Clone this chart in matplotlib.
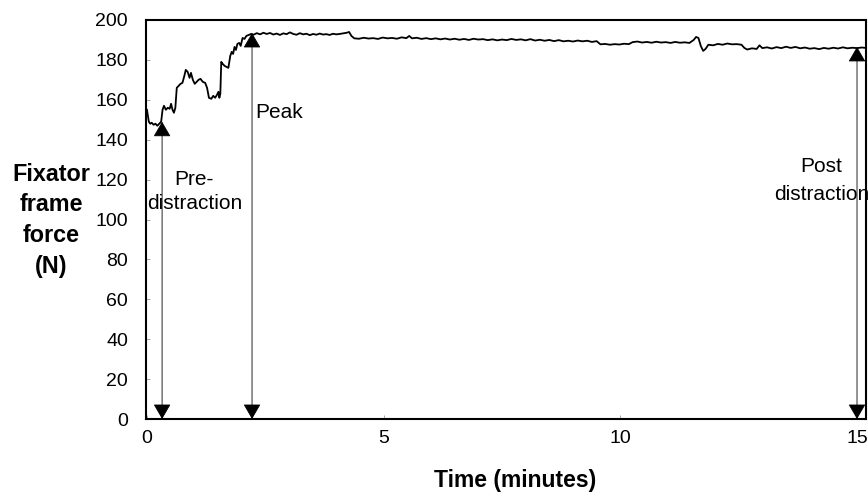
import matplotlib
matplotlib.use("Agg")
import matplotlib.pyplot as plt

plt.rcParams["font.family"] = ["Liberation Sans", "DejaVu Sans"]

# force trace (time in minutes, force in N)
time = [0.00, 0.02, 0.04, 0.07, 0.10, 0.14, 0.18, 0.22, 0.26, 0.30,
        0.33, 0.36, 0.40, 0.44, 0.48, 0.51, 0.54, 0.57, 0.60, 0.63,
        0.67, 0.71, 0.75, 0.79, 0.82, 0.86, 0.90, 0.93, 0.97, 1.01,
        1.05, 1.09, 1.13, 1.18, 1.23, 1.27, 1.31, 1.36, 1.40, 1.44,
        1.48, 1.51, 1.53, 1.55, 1.57, 1.60, 1.64, 1.68, 1.72, 1.76,
        1.79, 1.82, 1.85, 1.88, 1.91, 1.95, 1.98, 2.02, 2.06, 2.10,
        2.15, 2.20, 2.25, 2.32, 2.39, 2.46, 2.53, 2.60, 2.67, 2.74,
        2.81, 2.88, 2.95, 3.02, 3.09, 3.16, 3.23, 3.30, 3.37, 3.44,
        3.51, 3.58, 3.65, 3.72, 3.79, 3.86, 3.93, 4.00, 4.07, 4.14,
        4.22, 4.27, 4.32, 4.38, 4.48, 4.58, 4.68, 4.78, 4.88, 4.98,
        5.08, 5.18, 5.28, 5.38, 5.48, 5.54, 5.60, 5.70, 5.80, 5.90,
        6.00, 6.10, 6.20, 6.30, 6.40, 6.50, 6.60, 6.70, 6.80, 6.90,
        7.00, 7.10, 7.20, 7.30, 7.40, 7.50, 7.60, 7.70, 7.80, 7.90,
        8.00, 8.10, 8.20, 8.30, 8.40, 8.50, 8.60, 8.70, 8.80, 8.90,
        9.00, 9.10, 9.20, 9.30, 9.40, 9.50, 9.58, 9.68, 9.78, 9.88,
        9.98, 10.08, 10.18, 10.26, 10.36, 10.46, 10.56, 10.66, 10.76, 10.86,
        10.96, 11.06, 11.16, 11.26, 11.36, 11.46, 11.55, 11.60, 11.65, 11.70,
        11.75, 11.80, 11.86, 11.96, 12.06, 12.16, 12.26, 12.36, 12.46, 12.56,
        12.62, 12.68, 12.78, 12.88, 12.94, 13.00, 13.10, 13.20, 13.30, 13.40,
        13.50, 13.60, 13.70, 13.80, 13.90, 14.00, 14.10, 14.20, 14.30, 14.40,
        14.50, 14.60, 14.70, 14.80, 14.90, 15.00, 15.10, 15.19]
force = [155.0, 152.0, 149.0, 148.0, 148.5, 147.5, 148.0, 147.0, 148.0, 149.0,
         155.0, 157.0, 155.0, 156.0, 155.5, 158.0, 155.0, 153.5, 156.0, 166.0,
         167.0, 168.0, 168.5, 172.0, 175.0, 174.0, 171.0, 173.5, 170.0, 168.0,
         169.0, 170.0, 170.5, 169.0, 168.5, 166.0, 161.0, 160.5, 162.0, 161.0,
         162.5, 164.0, 161.0, 163.0, 179.0, 178.0, 177.0, 176.5, 176.0, 182.0,
         184.0, 183.0, 186.5, 185.0, 188.0, 188.5, 187.0, 191.0, 190.5, 192.0,
         192.5, 193.0, 192.6, 193.4, 192.8, 193.6, 193.0, 193.5, 192.7, 193.2,
         192.5, 193.3, 192.9, 193.8, 193.0, 192.6, 193.4, 192.8, 193.1, 192.4,
         193.0, 192.6, 193.2, 192.7, 192.9, 192.5, 193.1, 192.8, 193.0, 193.3,
         193.6, 194.0, 192.0, 190.8, 190.6, 191.1, 190.7, 190.9, 190.5, 191.2,
         190.8, 191.0, 190.6, 191.3, 190.9, 192.0, 190.8, 191.1, 190.5, 190.9,
         190.4, 190.8, 190.3, 190.7, 190.2, 190.6, 190.1, 190.5, 190.0, 190.6,
         190.2, 190.4, 189.9, 190.3, 189.8, 190.2, 189.9, 190.5, 190.0, 190.3,
         189.8, 190.4, 189.7, 190.1, 189.6, 190.0, 189.4, 189.9, 189.3, 189.6,
         189.2, 189.7, 189.3, 189.6, 189.0, 189.4, 187.8, 188.0, 187.6, 187.9,
         187.7, 188.1, 187.9, 188.9, 189.2, 188.7, 189.0, 188.6, 189.1, 188.7,
         188.9, 188.5, 189.0, 188.6, 188.8, 188.5, 190.0, 191.5, 191.0, 187.0,
         184.5, 185.5, 187.6, 187.3, 188.0, 187.6, 188.2, 187.8, 187.9, 187.6,
         186.0, 185.2, 185.8, 185.5, 187.3, 185.9, 186.3, 185.7, 186.4, 185.9,
         186.6, 186.0, 186.5, 185.8, 186.2, 185.6, 185.9, 185.4, 186.0, 185.6,
         186.1, 185.7, 186.3, 185.8, 186.1, 185.9, 186.2, 186.0]

# marked phases: time, force at top of arrow
phase_times = [0.32, 2.22, 15.0]
phase_tops = [149.0, 193.5, 186.5]

x_ticks = [0, 5, 10, 15]
y_ticks = list(range(0, 201, 20))

fig = plt.figure(figsize=(8.68, 4.96), dpi=100)
ax = fig.add_axes([0.1682, 0.1552, 0.8295, 0.8045])

ax.plot(time, force, color="black", lw=1.3)

for t, top in zip(phase_times, phase_tops):
    ax.annotate("", xy=(t, top), xytext=(t, 0),
                arrowprops=dict(arrowstyle="<|-|>,head_length=0.95,head_width=0.55",
                                mutation_scale=10, color="black", lw=0.6,
                                shrinkA=0, shrinkB=0))

ax.text(1.0, 114, "Pre-\ndistraction", ha="center", va="center",
        fontsize=15, linespacing=1.3)
ax.text(2.28, 153.4, "Peak", ha="left", va="center", fontsize=15)
ax.text(14.25, 119.5, "Post\ndistraction", ha="center", va="center",
        fontsize=15, linespacing=1.65, clip_on=False)

ax.set_xlim(-0.02, 15.19)
ax.set_ylim(0, 200)
ax.set_xticks(x_ticks)
ax.set_yticks(y_ticks)
ax.tick_params(axis="both", direction="in", length=3, width=0.6,
               color="#999999", labelsize=14)
ax.tick_params(axis="y", pad=13)
ax.tick_params(axis="x", pad=8)
for side in ax.spines.values():
    side.set_linewidth(1.5)

fig.text(0.059, 0.556, "Fixator\nframe\nforce\n(N)", ha="center", va="center",
         fontsize=16.8, fontweight="bold", linespacing=1.43)
fig.text(0.594, 0.032, "Time (minutes)", ha="center", va="center",
         fontsize=16.5, fontweight="bold")

fig.savefig("out.png", dpi=100)
